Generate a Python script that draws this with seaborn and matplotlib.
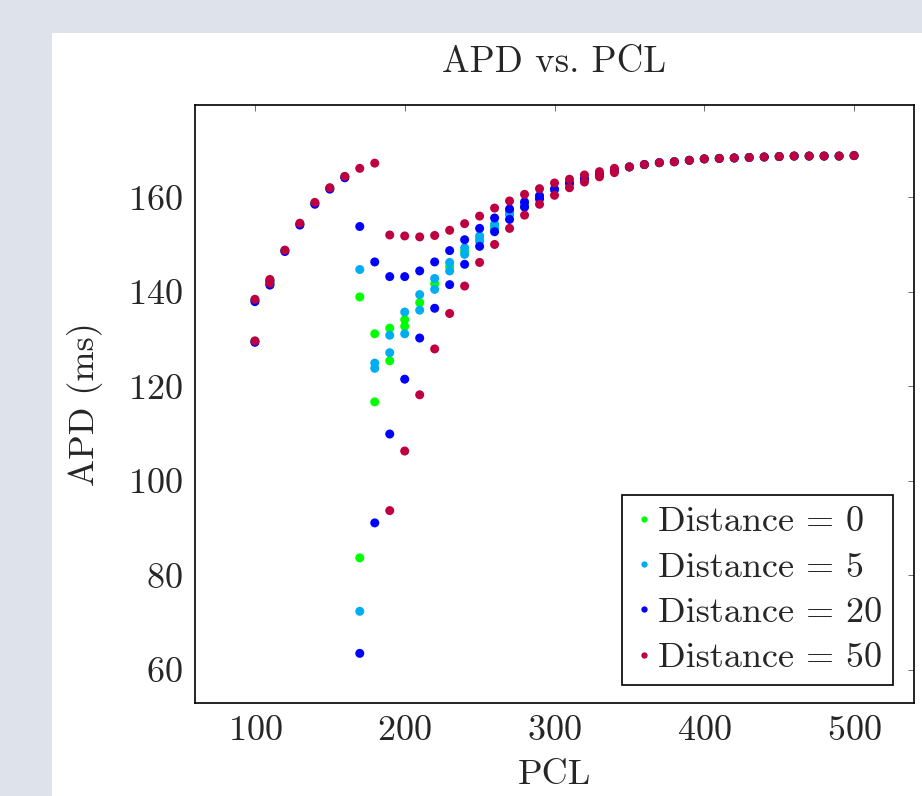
import pandas as pd
import seaborn as sns
import matplotlib.pyplot as plt
from matplotlib.patches import Rectangle

# steady-state tail shared by every distance (all points overlap here)
tail_pcl = [350, 360, 370, 380, 390, 400, 410, 420, 430, 440, 450, 460, 470, 480, 490, 500]
tail_apd = [166.4, 166.9, 167.3, 167.5, 167.8, 168.1, 168.2, 168.3, 168.4, 168.5,
            168.6, 168.7, 168.7, 168.7, 168.7, 168.8]

pcl_d0 = [100, 100, 110, 110, 120, 130, 140, 150, 160, 170, 170, 180, 180, 190, 190,
          200, 200, 210, 220, 230, 240, 250, 260, 270, 280, 290, 300, 310, 320, 330, 340]
apd_d0 = [138.2, 129.5, 142.4, 141.6, 148.7, 154.3, 158.7, 161.9, 164.3, 138.9, 83.7,
          131.1, 116.7, 132.3, 125.4, 134.1, 132.7, 137.7, 141.7, 145.3, 148.5, 151.2,
          153.8, 156.6, 158.3, 160.0, 161.6, 162.9, 163.9, 164.8, 165.6]

pcl_d5 = [100, 100, 110, 110, 120, 130, 140, 150, 160, 170, 170, 180, 180, 190, 190,
          200, 200, 210, 210, 220, 220, 230, 230, 240, 240, 250, 250, 260, 260, 270, 270,
          280, 280, 290, 300, 310, 320, 330, 340]
apd_d5 = [138.2, 129.5, 142.4, 141.6, 148.7, 154.3, 158.7, 161.9, 164.3, 144.7, 72.4,
          124.9, 123.8, 130.8, 127.1, 135.7, 131.1, 139.4, 136.1, 142.8, 140.5, 146.2,
          144.4, 149.3, 147.9, 151.8, 150.7, 154.3, 153.3, 157.0, 156.3, 158.6, 158.0,
          160.1, 161.6, 162.9, 163.9, 164.8, 165.6]

pcl_d20 = [100, 100, 110, 110, 120, 130, 140, 150, 160, 170, 170, 180, 180, 190, 190,
           200, 200, 210, 210, 220, 220, 230, 230, 240, 240, 250, 250, 260, 260, 270, 270,
           280, 280, 290, 290, 300, 310, 320, 330, 340]
apd_d20 = [137.9, 129.3, 142.2, 141.4, 148.5, 154.1, 158.5, 161.7, 164.1, 153.8, 63.5,
           146.3, 91.1, 143.2, 109.9, 143.2, 121.5, 144.4, 130.2, 146.3, 136.5, 148.7,
           141.5, 151.0, 145.8, 153.4, 149.6, 155.6, 152.7, 157.5, 155.3, 159.0, 157.9,
           160.3, 159.6, 161.7, 163.0, 163.9, 164.8, 165.6]

pcl_d50 = [100, 100, 110, 110, 120, 130, 140, 150, 160, 170, 180, 190, 190, 200, 200,
           210, 210, 220, 220, 230, 230, 240, 240, 250, 250, 260, 260, 270, 270, 280, 280,
           290, 290, 300, 300, 310, 310, 320, 320, 330, 330, 340, 340]
apd_d50 = [138.4, 129.6, 142.6, 141.8, 148.8, 154.5, 158.9, 162.0, 164.4, 166.1, 167.2,
           152.0, 93.7, 151.8, 106.3, 151.6, 118.2, 151.9, 127.9, 153.0, 135.4, 154.4,
           141.2, 156.0, 146.2, 157.7, 150.0, 159.2, 153.4, 160.6, 156.2, 161.8, 158.5,
           163.0, 160.4, 163.8, 162.0, 164.7, 163.2, 165.4, 164.3, 166.1, 165.2]

labels = ["Distance = 0", "Distance = 5", "Distance = 20", "Distance = 50"]
colors = ["#00ff00", "#00aeef", "#0000ff", "#bf0040"]

frames = []
for lab, p, a in zip(labels, [pcl_d0, pcl_d5, pcl_d20, pcl_d50],
                     [apd_d0, apd_d5, apd_d20, apd_d50]):
    frames.append(pd.DataFrame({"PCL": p + tail_pcl, "APD": a + tail_apd, "series": lab}))
df = pd.concat(frames, ignore_index=True)

sns.set_theme(style="white")
plt.rcParams["font.family"] = "cmr10"
plt.rcParams["axes.formatter.use_mathtext"] = True

fig = plt.figure(figsize=(9.22, 7.96), dpi=100)
fig.patch.set_facecolor("#dee2eb")
# white panel behind the plot
fig.patches.append(Rectangle((52 / 922, 0), 1 - 52 / 922, 1 - 33 / 796,
                             transform=fig.transFigure, facecolor="white",
                             edgecolor="none", zorder=-1))

ax = fig.add_axes([195 / 922, 1 - 703 / 796, 719 / 922, 598 / 796])
sns.scatterplot(data=df, x="PCL", y="APD", hue="series", hue_order=labels,
                palette=colors, s=42, linewidth=0, ax=ax)

ax.set_xlim(60, 540)
ax.set_ylim(53, 179.5)
ax.set_xticks([100, 200, 300, 400, 500])
ax.set_yticks([60, 80, 100, 120, 140, 160])
ax.tick_params(direction="in", length=4.5, width=0.6, color="#555555",
               top=True, right=True, labelsize=26, pad=9)
for sp in ax.spines.values():
    sp.set_color("black")
    sp.set_linewidth(1.2)

ax.set_title("APD vs. PCL", fontsize=26.5, pad=24)
ax.set_xlabel("PCL", fontsize=26, labelpad=9)
ax.set_ylabel("APD (ms)", fontsize=26, labelpad=18)

leg = ax.legend(loc="lower right", bbox_to_anchor=(0.971, 0.03), borderaxespad=0,
                fontsize=26, frameon=True, fancybox=False, framealpha=1,
                edgecolor="black", markerscale=0.7, handletextpad=0.1,
                handlelength=0.6, labelspacing=0.36, borderpad=0.3)
leg.get_frame().set_linewidth(1.2)

fig.savefig("out.png", dpi=100, facecolor=fig.get_facecolor())
